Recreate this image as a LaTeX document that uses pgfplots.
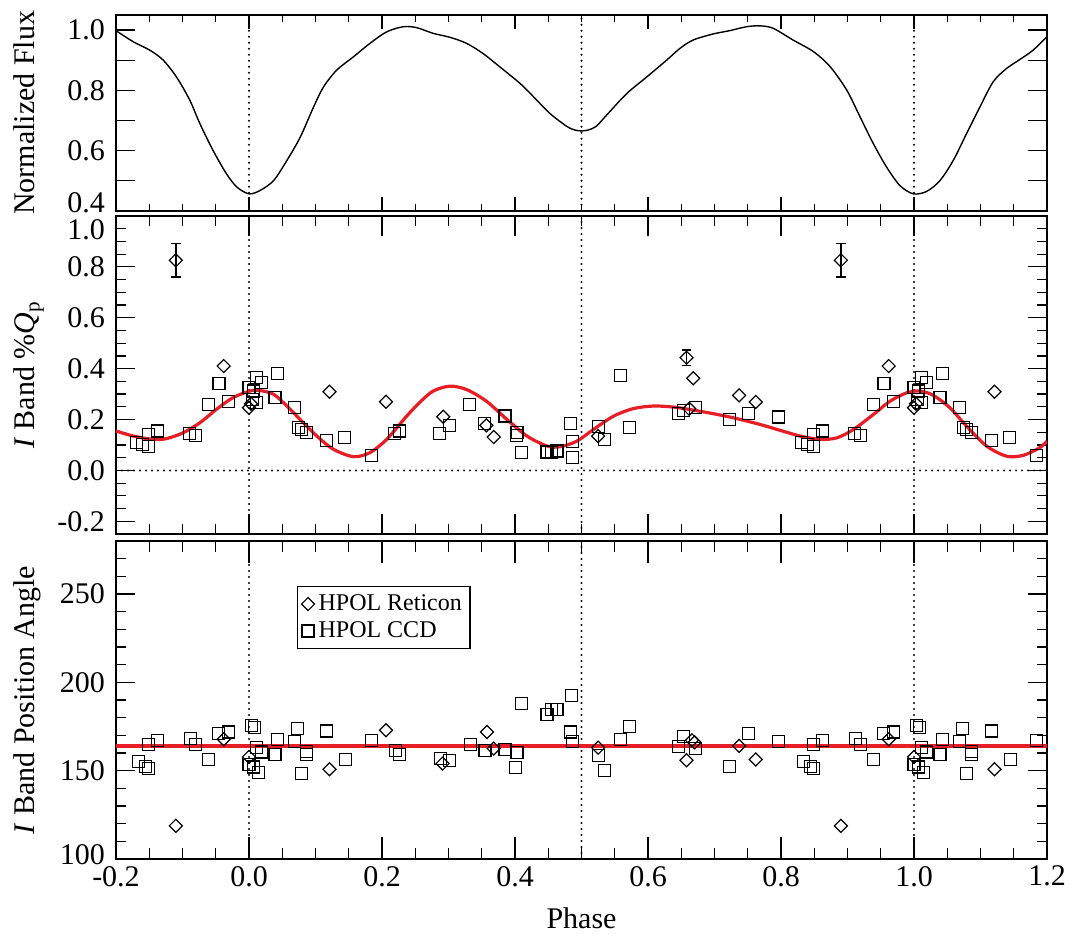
\documentclass[border=0pt]{standalone}
\usepackage{fontspec}
\setmainfont{Liberation Serif}
\usepackage{pgfplots}
\usepackage{pgfplotstable}
\pgfplotsset{compat=1.18}
\definecolor{fitred}{RGB}{232,30,38}

\pgfplotstableread{
p v
-0.200 0.998
-0.174 0.961
-0.149 0.933
-0.129 0.900
-0.109 0.844
-0.089 0.767
-0.074 0.690
-0.054 0.600
-0.034 0.523
-0.018 0.478
0.000 0.456
0.0165 0.467
0.037 0.500
0.057 0.567
0.077 0.644
0.097 0.744
0.112 0.811
0.132 0.867
0.157 0.911
0.182 0.956
0.207 0.994
0.232 1.011
0.252 1.008
0.277 0.989
0.302 0.976
0.327 0.956
0.352 0.922
0.377 0.878
0.408 0.822
0.428 0.778
0.453 0.722
0.478 0.680
0.490 0.668
0.500 0.665
0.510 0.668
0.522 0.680
0.538 0.718
0.568 0.789
0.598 0.844
0.628 0.900
0.648 0.939
0.668 0.967
0.698 0.987
0.723 0.998
0.748 1.011
0.768 1.014
0.788 1.006
0.818 0.967
0.849 0.928
0.874 0.878
0.899 0.800
0.919 0.711
0.939 0.622
0.959 0.544
0.979 0.483
0.999 0.456
1.019 0.464
1.039 0.500
1.059 0.567
1.079 0.656
1.099 0.744
1.119 0.828
1.139 0.872
1.159 0.902
1.179 0.933
1.200 0.978
}\fluxcurve

\pgfplotstableread{
p v
-0.200 0.155
-0.174 0.135
-0.144 0.122
-0.124 0.125
-0.099 0.148
-0.074 0.187
-0.049 0.240
-0.024 0.286
0.0015 0.312
0.0165 0.314
0.037 0.299
0.057 0.253
0.077 0.200
0.102 0.135
0.127 0.083
0.157 0.054
0.182 0.070
0.207 0.122
0.237 0.213
0.257 0.268
0.277 0.312
0.302 0.331
0.327 0.318
0.357 0.272
0.388 0.200
0.418 0.135
0.448 0.096
0.468 0.093
0.493 0.115
0.518 0.161
0.548 0.213
0.578 0.243
0.608 0.253
0.638 0.249
0.668 0.237
0.698 0.223
0.728 0.207
0.768 0.181
0.798 0.158
0.829 0.135
0.859 0.122
0.884 0.128
0.909 0.161
0.939 0.220
0.964 0.272
0.989 0.305
1.009 0.312
1.029 0.295
1.054 0.246
1.079 0.174
1.109 0.096
1.139 0.056
1.164 0.059
1.189 0.089
1.200 0.115
}\qpfit

\pgfplotstableread{
p v
0.000 0.325
0.005 0.280
0.0065 0.312
0.0115 0.364
0.0115 0.266
0.019 0.347
0.039 0.286
0.043 0.381
0.069 0.246
0.074 0.168
0.079 0.162
0.087 0.148
0.117 0.119
0.144 0.128
0.184 0.059
0.219 0.145
0.226 0.155
0.287 0.145
0.301 0.177
0.332 0.259
0.354 0.185
0.385 0.214
0.402 0.138
0.403 0.148
0.410 0.069
0.448 0.072
0.455 0.072
0.463 0.076
0.484 0.183
0.486 0.050
0.487 0.115
0.525 0.174
0.534 0.122
0.559 0.373
0.572 0.170
0.646 0.224
0.653 0.237
0.672 0.246
0.723 0.200
0.751 0.224
0.796 0.210
0.831 0.109
0.840 0.102
0.849 0.093
0.849 0.142
0.862 0.155
0.911 0.145
0.920 0.138
0.939 0.259
0.955 0.342
0.969 0.270
}\midsq

\pgfplotstableread{
p v
0.000 0.246
0.003 0.262
0.121 0.309
0.206 0.270
0.292 0.211
0.357 0.177
0.368 0.131
0.525 0.135
0.662 0.242
0.668 0.362
0.737 0.295
0.762 0.269
0.962 0.410
}\middia

\pgfplotstableread{
p v e
0.658 0.443 0.030
0.890 0.826 0.065
}\miderr

\pgfplotstableread{
p v
0.000 153.7
0.004 175.7
0.0065 152.1
0.0085 174.4
0.0115 163.1
0.014 148.8
0.019 160.6
0.039 159.1
0.043 167.8
0.069 166.3
0.073 173.8
0.079 148.4
0.087 159.1
0.087 161.0
0.117 172.5
0.145 156.5
0.184 167.2
0.220 161.6
0.226 159.3
0.288 156.9
0.301 155.9
0.333 165.0
0.355 161.2
0.385 162.0
0.401 151.6
0.403 160.1
0.410 188.0
0.448 181.9
0.455 184.6
0.463 184.7
0.484 171.9
0.485 192.7
0.487 166.3
0.525 158.8
0.534 149.9
0.559 167.8
0.572 175.1
0.646 163.8
0.653 169.5
0.672 162.5
0.723 152.5
0.751 171.0
0.796 166.5
0.834 155.0
0.844 152.5
0.849 151.2
0.849 165.0
0.862 167.2
0.912 168.2
0.920 164.8
0.939 156.3
0.954 171.0
0.969 171.9
}\botsq

\pgfplotstableread{
p v
0.000 157.8
0.121 150.8
0.206 172.9
0.291 154.0
0.358 171.9
0.368 162.5
0.525 163.0
0.658 155.9
0.666 167.2
0.670 166.0
0.737 164.0
0.762 156.3
0.890 118.8
0.962 167.8
}\botdia

\pgfplotsset{
  panel/.style={
    scale only axis, width=465.5pt,
    xmin=-0.2, xmax=1.2,
    xtick={-0.2,0,0.2,0.4,0.6,0.8,1,1.2},
    minor x tick num=3,
    axis line style={line width=0.8pt},
    every tick/.style={black, line width=0.6pt},
    tick label style={font=\fontsize{15}{18}\selectfont},
    label style={font=\fontsize{15}{18}\selectfont},
    yticklabel style={xshift=-2pt},
    ytick style={/pgfplots/major tick length=9.5pt, /pgfplots/minor tick length=5pt},
    every axis y label/.style={at={(axis description cs:-0.087,0.5)}, rotate=90, anchor=base, font=\fontsize{15}{18}\selectfont},
    restrict x to domain=-0.25:1.25,
  },
  sq/.style={only marks, mark=square, mark size=3pt, mark options={black, line width=0.6pt, solid}},
  dia/.style={only marks, mark=square, mark size=2.3pt, mark options={rotate=45, black, line width=0.6pt, solid}},
  vdot/.style={forget plot, black, line width=1.1pt, dash pattern=on 0pt off 3pt, line cap=round},
}

\begin{document}
\begin{tikzpicture}
\path[use as bounding box] (-58pt,-40pt) rectangle (482pt,429.5pt);

% ---------- top panel ----------
\begin{axis}[panel, at={(0pt,324.15pt)}, anchor=south west, height=97.85pt,
  ymin=0.4, ymax=1.05,
  ytick={0.5,0.6,0.7,0.8,0.9,1.0}, yticklabels={,0.6,,0.8,,1.0},
  extra y ticks={0.4}, extra y tick labels={0.4},
  extra y tick style={yticklabel style={yshift=4pt}},
  xticklabels={},
  xtick style={/pgfplots/major tick length=7pt, /pgfplots/minor tick length=3.5pt},
  ylabel={Normalized Flux}]
\addplot[vdot] coordinates {(0,0.4) (0,1.05)};
\addplot[vdot] coordinates {(0.5,0.4) (0.5,1.05)};
\addplot[vdot] coordinates {(1,0.4) (1,1.05)};
\addplot[black, line width=0.7pt, smooth] table[x=p, y=v] {\fluxcurve};
\end{axis}

% ---------- middle panel ----------
\begin{axis}[panel, at={(0pt,162.5pt)}, anchor=south west, height=159pt,
  ymin=-0.25, ymax=1.0,
  ytick={-0.2,0,0.2,0.4,0.6,0.8}, yticklabels={-0.2,0.0,0.2,0.4,0.6,0.8},
  minor ytick={-0.25,-0.15,-0.1,-0.05,0.05,0.1,0.15,0.25,0.3,0.35,0.45,0.5,0.55,0.65,0.7,0.75,0.85,0.9,0.95},
  extra y ticks={1.0}, extra y tick labels={1.0},
  extra y tick style={yticklabel style={yshift=-7pt}},
  xticklabels={},
  xtick style={/pgfplots/major tick length=10pt, /pgfplots/minor tick length=5pt},
  ylabel={\textit{I} Band \%\textit{Q}\textsubscript{p}}]
\addplot[vdot] coordinates {(0,-0.25) (0,1.0)};
\addplot[vdot] coordinates {(0.5,-0.25) (0.5,1.0)};
\addplot[vdot] coordinates {(1,-0.25) (1,1.0)};
\addplot[vdot] coordinates {(-0.2,0) (1.2,0)};
\addplot[sq] table[x expr=\thisrow{p}-1, y=v] {\midsq};
\addplot[sq] table[x expr=\thisrow{p}, y=v] {\midsq};
\addplot[sq] table[x expr=\thisrow{p}+1, y=v] {\midsq};
\addplot[dia] table[x expr=\thisrow{p}-1, y=v] {\middia};
\addplot[dia] table[x expr=\thisrow{p}, y=v] {\middia};
\addplot[dia] table[x expr=\thisrow{p}+1, y=v] {\middia};
\addplot[dia, error bars/.cd, y dir=both, y explicit,
  error bar style={black, line width=0.7pt, solid},
  error mark options={rotate=90, black, mark size=2.4pt, line width=0.7pt}]
  table[x expr=\thisrow{p}-1, y=v, y error=e] {\miderr};
\addplot[dia, error bars/.cd, y dir=both, y explicit,
  error bar style={black, line width=0.7pt, solid},
  error mark options={rotate=90, black, mark size=2.4pt, line width=0.7pt}]
  table[x expr=\thisrow{p}, y=v, y error=e] {\miderr};
\addplot[fitred, line width=1.6pt, smooth] table[x=p, y=v] {\qpfit};
\end{axis}

% ---------- bottom panel ----------
\begin{axis}[panel, at={(0pt,0pt)}, anchor=south west, height=159pt,
  ymin=100, ymax=280,
  ytick={150,200,250}, yticklabels={150,200,250},
  minor ytick={110,120,130,140,160,170,180,190,210,220,230,240,260,270,280},
  extra y ticks={100}, extra y tick labels={100},
  extra y tick style={yticklabel style={yshift=2pt}},
  xticklabels={-0.2,0.0,0.2,0.4,0.6,0.8,1.0,1.2},
  xtick style={/pgfplots/major tick length=11pt, /pgfplots/minor tick length=5.3pt},
  xlabel={Phase},
  xlabel style={at={(axis description cs:0.5,-0.217)}, anchor=base},
  ylabel={\textit{I} Band Position Angle},
  legend style={at={(axis description cs:0.1944,0.8585)}, anchor=north west,
    draw=black, line width=0.6pt, font=\fontsize{12}{13}\selectfont,
    inner sep=2pt, row sep=0pt},
  legend cell align=left]
\addplot[dia] table[x expr=\thisrow{p}, y=v] {\botdia};
\addlegendentry{HPOL Reticon}
\addplot[sq] table[x expr=\thisrow{p}, y=v] {\botsq};
\addlegendentry{HPOL CCD}
\addplot[vdot] coordinates {(0,100) (0,280)};
\addplot[vdot] coordinates {(0.5,100) (0.5,280)};
\addplot[vdot] coordinates {(1,100) (1,280)};
\addplot[sq, forget plot] table[x expr=\thisrow{p}-1, y=v] {\botsq};
\addplot[sq, forget plot] table[x expr=\thisrow{p}+1, y=v] {\botsq};
\addplot[dia, forget plot] table[x expr=\thisrow{p}-1, y=v] {\botdia};
\addplot[dia, forget plot] table[x expr=\thisrow{p}+1, y=v] {\botdia};
\addplot[fitred, line width=1.6pt, forget plot] coordinates {(-0.2,164) (1.2,164)};
\end{axis}
\end{tikzpicture}
\end{document}
